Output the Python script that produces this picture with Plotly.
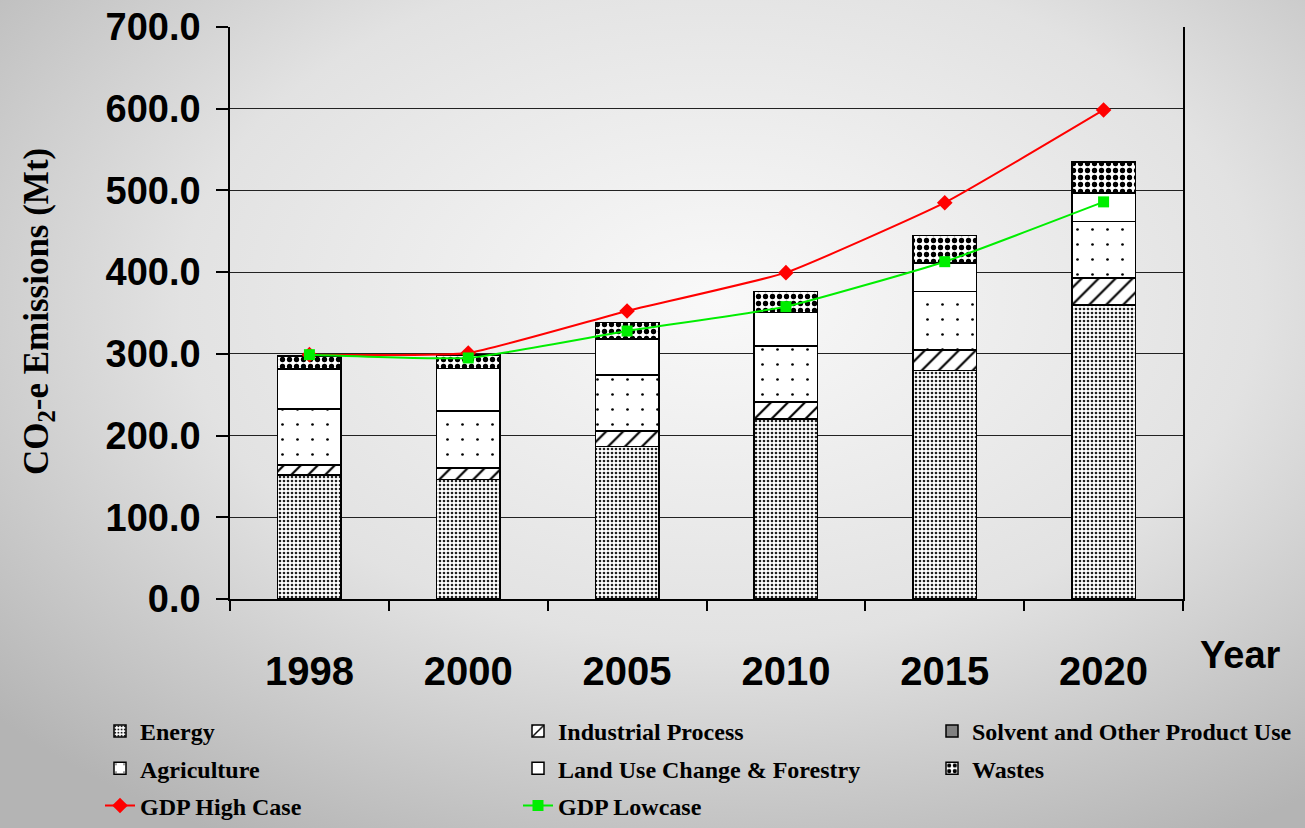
import base64
import plotly.graph_objects as go

years = ["1998", "2000", "2005", "2010", "2015", "2020"]
energy = [152.0, 146.5, 186.4, 220.0, 279.4, 359.8]
industrial = [12.0, 14.0, 19.2, 20.7, 25.3, 32.7]
solvent = [0.3, 0.3, 0.3, 0.3, 0.3, 0.3]
agriculture = [68.0, 69.5, 68.4, 68.9, 71.3, 69.3]
land_use = [49.0, 51.5, 43.8, 40.8, 34.8, 34.7]
wastes = [16.0, 17.0, 20.2, 25.6, 33.8, 38.0]
gdp_high = [299.0, 301.0, 352.5, 399.4, 485.0, 598.5]
gdp_low = [299.0, 295.0, 328.0, 357.8, 412.8, 486.0]

W, H = 1305, 828
L, R, T, B = 230, 122, 27, 229
pw, ph = W - L - R, H - T - B

svg = f'''<svg xmlns="http://www.w3.org/2000/svg" width="{W}" height="{H}">
<defs><radialGradient id="g" cx="{720/W}" cy="{300/H}" r="0.75" gradientUnits="objectBoundingBox">
<stop offset="0" stop-color="#f9f9f9"/><stop offset="0.55" stop-color="#e2e2e2"/><stop offset="1" stop-color="#b4b4b4"/></radialGradient></defs>
<rect width="{W}" height="{H}" fill="url(#g)"/></svg>'''
bg = "data:image/svg+xml;base64," + base64.b64encode(svg.encode()).decode()

fig = go.Figure()

def bar(name, vals, shape, size, solidity, legend, fg="black"):
    fig.add_trace(go.Bar(
        x=years, y=vals, name=name, legend=legend, legendgroup=name,
        marker=dict(color="white", line=dict(color="black", width=1.5),
                    pattern=dict(shape=shape, size=size, solidity=solidity,
                                 fgcolor=fg, bgcolor="white", fillmode="replace")),
    ))

bar("Energy", energy, ".", 4, 0.35, "legend", "#222")
bar("Industrial Process", industrial, "/", 12, 0.18, "legend2")
fig.add_trace(go.Bar(x=years, y=solvent, name="Solvent and Other Product Use", legend="legend3",
                     legendgroup="solvent",
                     marker=dict(color="#808080", line=dict(color="black", width=1.5))))
bar("Agriculture", agriculture, ".", 15, 0.025, "legend")
bar("Land Use Change &amp; Forestry", land_use, "", 8, 0.3, "legend2")
bar("Wastes", wastes, ".", 7, 0.45, "legend3")

fig.add_trace(go.Scatter(x=years, y=gdp_high, name="GDP High Case", mode="lines+markers", legend="legend",
                         legendgroup="high",
                         line=dict(color="#ff0000", width=2, shape="spline", smoothing=0.4),
                         marker=dict(symbol="diamond", size=12, color="#ff0000")))
fig.add_trace(go.Scatter(x=years, y=gdp_low, name="GDP Lowcase", mode="lines+markers", legend="legend2",
                         legendgroup="low",
                         line=dict(color="#00ee00", width=2, shape="spline", smoothing=0.4),
                         marker=dict(symbol="square", size=11, color="#00ee00")))

sans = "Liberation Sans, Arial, sans-serif"
serif = "Liberation Serif, Times New Roman, serif"
legfont = dict(family=serif, size=24, color="black", weight="bold")

def leg(px_left):
    return dict(orientation="v", x=(px_left - L) / pw, y=(T + ph - 709) / ph,
                xanchor="left", yanchor="top", traceorder="grouped", tracegroupgap=3,
                bgcolor="rgba(0,0,0,0)", font=legfont)

fig.update_layout(
    width=W, height=H,
    margin=dict(l=L, r=R, t=T, b=B, autoexpand=False),
    barmode="stack", bargap=0.6,
    paper_bgcolor="#d0d0d0", plot_bgcolor="rgba(0,0,0,0)",
    images=[dict(source=bg, xref="paper", yref="paper",
                 x=-L / pw, y=1 + T / ph, sizex=W / pw, sizey=H / ph,
                 sizing="stretch", xanchor="left", yanchor="top", layer="below")],
    showlegend=True,
    legend=leg(100), legend2=leg(518), legend3=leg(932),
    xaxis=dict(type="category", showline=True, linecolor="black", linewidth=1.5,
               ticks="outside", tickson="boundaries", ticklen=10, tickcolor="black", tickwidth=1.5,
               ticklabelstandoff=36,
               tickfont=dict(family=sans, size=40, color="black", weight="bold")),
    yaxis=dict(range=[0, 700], dtick=100, tickformat=".1f",
               showline=True, linecolor="black", linewidth=1.5, mirror=True,
               showgrid=True, gridcolor="#222", gridwidth=1.2,
               ticks="outside", ticklen=12, tickcolor="black", tickwidth=1.5,
               ticklabelstandoff=8, zeroline=False,
               tickfont=dict(family=sans, size=38, color="black", weight="bold")),
    annotations=[
        dict(text="CO<sub>2</sub>-e Emissions (Mt)", textangle=-90, xref="paper", yref="paper",
             x=(38 - L) / pw, y=(T + ph - 312) / ph, xanchor="center", yanchor="middle",
             showarrow=False,
             font=dict(family=serif, size=35, color="black", weight="bold")),
        dict(text="Year", xref="paper", yref="paper",
             x=(1240 - L) / pw, y=(T + ph - 655) / ph, xanchor="center", yanchor="middle",
             showarrow=False,
             font=dict(family=sans, size=38, color="black", weight="bold")),
    ],
)

fig.write_html("out.html", config={"displayModeBar": False},
               post_script="document.body.style.margin='0';document.body.style.overflow='hidden';")
